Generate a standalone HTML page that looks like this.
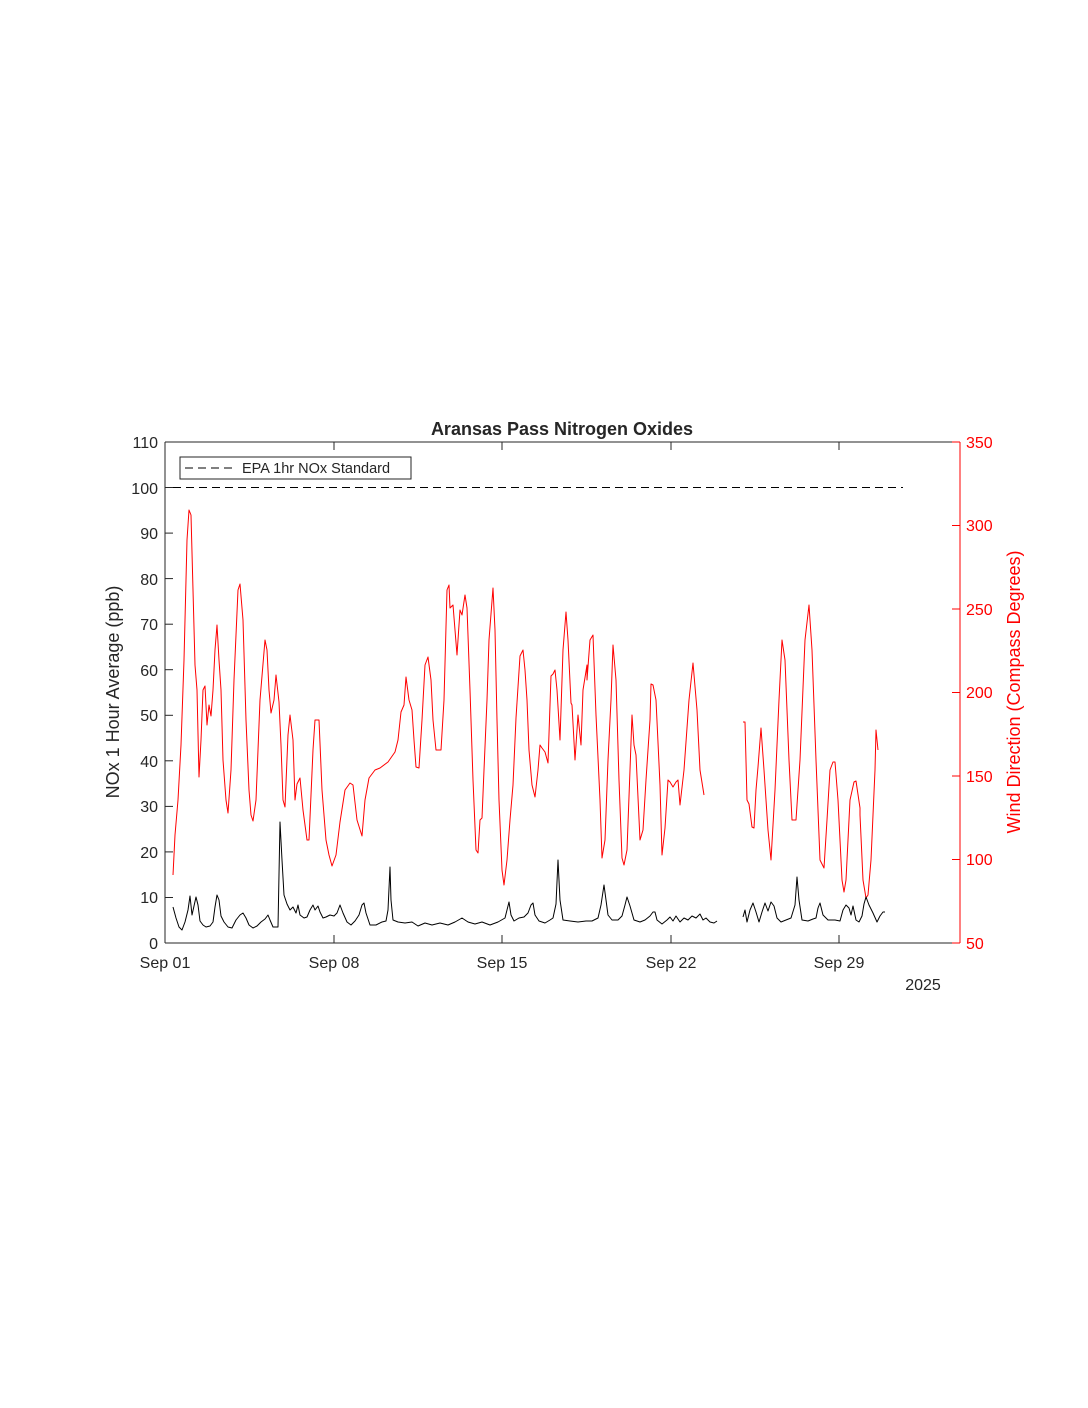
<!DOCTYPE html>
<html><head><style>body{margin:0;background:#fff}svg{display:block}text{font-family:"Liberation Sans",Arial,sans-serif}</style></head>
<body>
<svg width="1088" height="1408" viewBox="0 0 1088 1408" xmlns="http://www.w3.org/2000/svg">
<rect width="1088" height="1408" fill="#fff"/>
<text x="562" y="435" font-size="18" font-weight="bold" text-anchor="middle" fill="#262626">Aransas Pass Nitrogen Oxides</text>
<g stroke="#262626" stroke-width="1" fill="none">
<line x1="165" y1="442" x2="960" y2="442"/>
<line x1="165" y1="943" x2="960" y2="943"/>
<line x1="165" y1="442" x2="165" y2="943"/>
</g>
<line x1="960" y1="442" x2="960" y2="943" stroke="#f00"/>
<g stroke="#262626">
<line x1="165" y1="943" x2="173" y2="943"/><line x1="165" y1="897.5" x2="173" y2="897.5"/><line x1="165" y1="851.9" x2="173" y2="851.9"/><line x1="165" y1="806.4" x2="173" y2="806.4"/><line x1="165" y1="760.8" x2="173" y2="760.8"/><line x1="165" y1="715.3" x2="173" y2="715.3"/><line x1="165" y1="669.7" x2="173" y2="669.7"/><line x1="165" y1="624.2" x2="173" y2="624.2"/><line x1="165" y1="578.6" x2="173" y2="578.6"/><line x1="165" y1="533.1" x2="173" y2="533.1"/><line x1="165" y1="487.5" x2="173" y2="487.5"/>
<line x1="334" y1="943" x2="334" y2="935"/><line x1="502" y1="943" x2="502" y2="935"/><line x1="671" y1="943" x2="671" y2="935"/><line x1="839" y1="943" x2="839" y2="935"/>
<line x1="334" y1="442" x2="334" y2="450"/><line x1="502" y1="442" x2="502" y2="450"/><line x1="671" y1="442" x2="671" y2="450"/><line x1="839" y1="442" x2="839" y2="450"/>
</g>
<g stroke="#f00">
<line x1="952" y1="943" x2="960" y2="943"/><line x1="952" y1="859.5" x2="960" y2="859.5"/><line x1="952" y1="776" x2="960" y2="776"/><line x1="952" y1="692.5" x2="960" y2="692.5"/><line x1="952" y1="609" x2="960" y2="609"/><line x1="952" y1="525.5" x2="960" y2="525.5"/><line x1="952" y1="442" x2="960" y2="442"/>
</g>
<g font-size="16" fill="#262626" text-anchor="end">
<text x="158" y="949">0</text><text x="158" y="903">10</text><text x="158" y="858">20</text><text x="158" y="812">30</text><text x="158" y="767">40</text><text x="158" y="721">50</text><text x="158" y="676">60</text><text x="158" y="630">70</text><text x="158" y="585">80</text><text x="158" y="539">90</text><text x="158" y="494">100</text><text x="158" y="448">110</text>
</g>
<g font-size="16" fill="#f00">
<text x="966" y="949">50</text><text x="966" y="865">100</text><text x="966" y="782">150</text><text x="966" y="698">200</text><text x="966" y="615">250</text><text x="966" y="531">300</text><text x="966" y="448">350</text>
</g>
<g font-size="16" fill="#262626" text-anchor="middle">
<text x="165" y="968">Sep 01</text><text x="334" y="968">Sep 08</text><text x="502" y="968">Sep 15</text><text x="671" y="968">Sep 22</text><text x="839" y="968">Sep 29</text>
<text x="923" y="990">2025</text>
</g>
<text transform="translate(119,692) rotate(-90)" font-size="18" fill="#262626" text-anchor="middle">NOx 1 Hour Average (ppb)</text>
<text transform="translate(1020,692) rotate(-90)" font-size="18" fill="#f00" text-anchor="middle">Wind Direction (Compass Degrees)</text>
<line x1="173" y1="487.5" x2="903" y2="487.5" stroke="#000" stroke-dasharray="8,5"/>
<rect x="180" y="457" width="231" height="22" fill="#fff" stroke="#262626"/>
<line x1="185" y1="468" x2="236" y2="468" stroke="#000" stroke-dasharray="8,5"/>
<text x="242" y="473" font-size="14.5" fill="#262626">EPA 1hr NOx Standard</text>
<g fill="none" stroke="#f00" stroke-width="1" stroke-linejoin="round">
<polyline points="173,875 175,835 178,800 181,745 184,660 187,540 189,510 191,515 193,590 195,665 197,690 199,777 201,740 203,690 205,686 207,725 209,705 211,716 213,690 215,650 217,625 219,660 221,690 223,760 226,800 228,813 231,770 234,680 238,590 240,584 243,620 246,720 249,790 251,815 253,821 256,800 260,700 265,640 267,650 269,690 271,713 274,700 276,675 279,702 281,745 283,800 285,807 288,735 290,715 293,740 295,800 297,784 300,778 303,810 307,840 309,840 313,750 315,720 319,720 322,790 326,840 329,855 332,866 336,855 340,822 345,790 350,783 353,785 357,820 362,836 365,800 369,778 375,770 380,768 388,762 395,752 398,740 401,712 404,705 406,677 409,700 412,710 414,740 416,767 419,768 422,720 425,665 428,657 431,680 433,720 436,750 441,750 444,700 447,590 449,585 450,608 453,605 455,630 457,655 460,610 462,615 465,595 467,608 470,690 473,780 476,850 478,853 480,820 482,818 484,770 487,700 489,640 493,588 495,630 497,720 499,800 502,870 504,885 507,860 510,820 513,785 516,718 520,656 523,650 525,670 527,700 529,750 532,785 535,797 538,770 540,745 542,748 545,752 548,763 551,676 553,674 555,670 557,690 560,740 563,650 566,612 568,640 571,703 572,705 575,760 578,715 581,745 583,690 587,665 587,680 590,640 593,635 596,715 600,800 602,858 605,840 608,760 611,700 613,645 616,680 619,780 622,858 624,865 627,850 630,770 632,715 634,745 636,755 640,840 643,830 646,780 650,720 651,684 653,685 656,700 660,785 662,855 665,828 668,780 670,782 673,787 676,782 678,780 680,805 684,770 689,700 693,663 697,710 700,770 704,795"/>
<polyline points="743,722 745,722 747,800 749,804 752,827 754,828 756,790 758,767 761,728 764,770 768,830 771,860 775,790 779,700 782,640 785,660 789,760 792,820 796,820 800,760 805,640 809,605 812,650 816,760 820,860 824,868 827,820 830,770 833,762 835,762 838,800 842,880 844,892 846,880 850,800 854,782 856,781 860,808 860,815 863,880 866,898 868,895 871,860 875,770 876,730 878,750"/>
</g>
<g fill="none" stroke="#000" stroke-width="1" stroke-linejoin="round">
<polyline points="173,907 176,918 179,927 182,930 185,922 188,910 190,896 192,915 194,906 196,897 198,905 200,921 203,925 206,927 210,926 213,922 215,907 217,895 219,900 221,916 224,922 228,927 232,928 236,920 240,915 243,913 246,918 249,925 253,928 257,926 261,922 265,919 268,915 270,920 273,927 278,927 280,822 282,860 284,895 287,904 290,910 293,907 296,913 298,905 300,915 304,918 307,917 310,910 313,905 315,910 318,906 320,912 323,918 326,917 330,915 334,916 337,913 340,905 343,913 347,922 351,925 355,921 359,915 362,905 364,903 366,913 370,925 376,925 382,922 386,921 388,910 390,867 391,900 393,920 398,922 405,923 412,922 418,926 425,923 432,925 440,923 448,925 455,922 462,918 468,922 475,924 482,922 490,925 498,922 505,918 509,902 511,915 514,921 519,918 524,917 528,913 531,905 533,903 535,915 539,921 545,923 550,920 553,918 556,904 558,860 560,900 563,920 570,921 578,922 586,921 592,921 598,918 601,905 604,885 606,900 608,915 612,920 618,920 622,916 625,905 627,897 630,906 634,920 640,922 645,920 650,916 653,912 655,912 657,920 662,924 667,920 670,917 673,921 676,916 680,922 684,918 688,920 692,916 696,918 700,914 703,920 706,918 710,922 714,923 717,921"/>
<polyline points="743,917 745,910 747,922 750,910 753,903 756,912 759,922 762,912 765,903 768,911 771,902 774,906 777,918 781,922 786,920 791,918 795,905 797,877 799,900 802,920 808,921 813,919 816,918 818,908 820,903 823,915 828,920 835,920 840,921 843,910 846,905 849,908 851,915 853,906 856,920 859,922 862,916 864,904 866,897 869,905 873,913 877,922 880,916 883,912 885,912"/>
</g>
</svg>
</body></html>
